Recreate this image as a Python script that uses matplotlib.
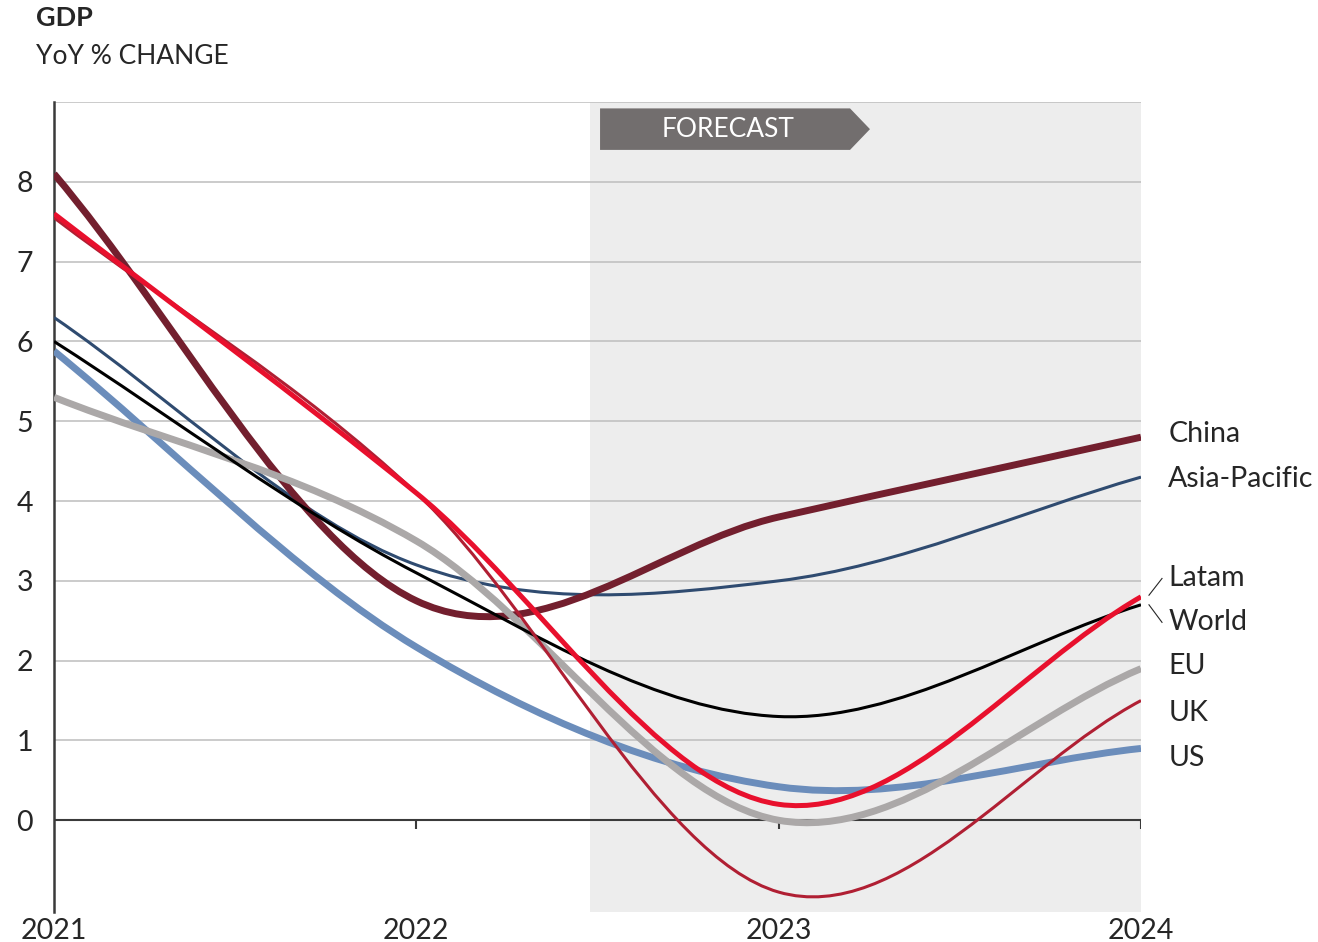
import matplotlib
matplotlib.use('Agg')
import matplotlib.pyplot as plt
from matplotlib.path import Path
from matplotlib.patches import PathPatch, Polygon
import numpy as np

plt.rcParams['font.family'] = ['Lato', 'DejaVu Sans']

years = [2021, 2022, 2023, 2024]

china = [8.1, 2.75, 3.8, 4.8]
asia_pacific = [6.3, 3.2, 3.0, 4.3]
latam = [7.6, 4.1, 0.2, 2.8]
world = [6.0, 3.1, 1.3, 2.7]
eu = [5.3, 3.5, 0.0, 1.9]
uk = [7.55, 4.1, -0.9, 1.5]
us = [5.88, 2.17, 0.42, 0.9]

series = [
    # name, values, colour, width, label y
    ('Asia-Pacific', asia_pacific, '#2f4b70', 2.2, 4.27),
    ('China', china, '#731f2e', 5.0, 4.84),
    ('US', us, '#6b8dbb', 5.0, 0.78),
    ('EU', eu, '#aba8a8', 5.0, 1.93),
    ('World', world, '#000000', 2.2, 2.49),
    ('UK', uk, '#b01f33', 2.2, 1.35),
    ('Latam', latam, '#e8102d', 3.6, 3.04),
]

forecast_start = 2022.48


def smooth_path(x, y):
    # excel-style smoothed line: bezier segments, catmull-rom tangents
    pts = np.column_stack([x, y]).astype(float)
    ext = np.vstack([2 * pts[0] - pts[1], pts, 2 * pts[-1] - pts[-2]])
    verts = [pts[0]]
    codes = [Path.MOVETO]
    for i in range(1, len(ext) - 2):
        p0, p1, p2, p3 = ext[i - 1], ext[i], ext[i + 1], ext[i + 2]
        verts += [p1 + (p2 - p0) / 6, p2 - (p3 - p1) / 6, p2]
        codes += [Path.CURVE4] * 3
    return Path(verts, codes)


fig = plt.figure(figsize=(13.18, 9.42), dpi=100)
ax = fig.add_axes([0.041, 0.0318, 0.8247, 0.8599])
ax.set_xlim(2021, 2024)
ax.set_ylim(-1.15, 9.0)

ax.axvspan(forecast_start, 2024, color='#ededed', lw=0, zorder=0)
for v in range(1, 10):
    ax.axhline(v, color='#bdbdbd', lw=1.1, zorder=1)
ax.axhline(0, color='#3a3a3a', lw=1.5, zorder=1.5)
ax.vlines([2022, 2023, 2024], -0.11, 0, color='#3a3a3a', lw=1.5, zorder=1.5)

for i, (name, vals, col, lw, ly) in enumerate(series):
    patch = PathPatch(smooth_path(years, vals), facecolor='none', edgecolor=col,
                      lw=lw, capstyle='butt', joinstyle='round', zorder=3 + i)
    ax.add_patch(patch)
    ax.text(2024.075, ly, name, fontsize=20.5, color='#262626', va='center', ha='left',
            clip_on=False)

# leader lines for the close pair
ax.plot([2024.022, 2024.058], [2.82, 3.03], color='#262626', lw=0.8, clip_on=False)
ax.plot([2024.022, 2024.058], [2.70, 2.48], color='#262626', lw=0.8, clip_on=False)

# forecast banner
banner = Polygon([(2022.507, 8.40), (2023.197, 8.40), (2023.252, 8.66),
                  (2023.197, 8.92), (2022.507, 8.92)], closed=True,
                 facecolor='#726e6e', edgecolor='none', zorder=10)
ax.add_patch(banner)
ax.text(2022.86, 8.655, 'FORECAST', color='white', fontsize=19, ha='center',
        va='center', zorder=11)

for s in ['top', 'right', 'bottom']:
    ax.spines[s].set_visible(False)
ax.spines['left'].set_color('#3a3a3a')
ax.spines['left'].set_linewidth(1.8)
ax.spines['left'].set_zorder(2)

ax.set_yticks(range(0, 9))
ax.set_yticklabels([str(v) for v in range(0, 9)])
ax.set_xticks(years)
ax.set_xticklabels([str(y) for y in years])
ax.tick_params(axis='y', length=0, pad=15, labelsize=20.5, labelcolor='#262626')
ax.tick_params(axis='x', length=0, pad=4, labelsize=20.5, labelcolor='#262626')

fig.text(36 / 1318, 1 - 18 / 942, 'GDP', fontsize=19.5, fontweight='bold',
         color='#262626', va='center', ha='left')
fig.text(36 / 1318, 1 - 57 / 942, 'YoY % CHANGE', fontsize=19,
         color='#262626', va='center', ha='left')

fig.savefig('out.png', dpi=100)
